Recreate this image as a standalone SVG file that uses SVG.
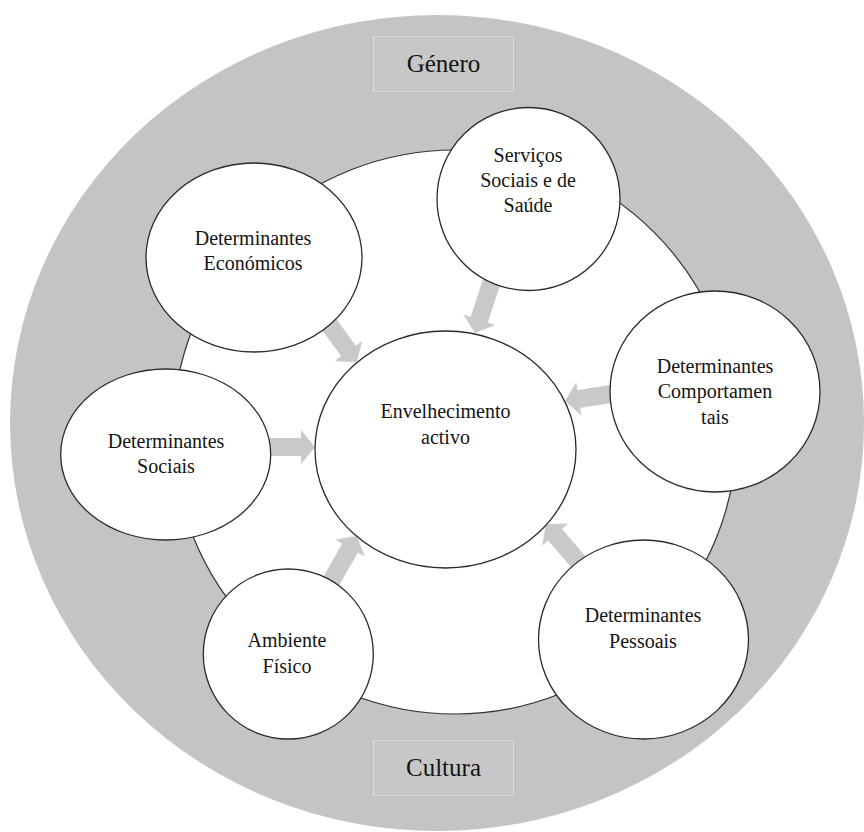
<svg xmlns="http://www.w3.org/2000/svg" width="864" height="832" viewBox="0 0 864 832">
<defs>
<style>
.node{fill:#ffffff;stroke:#2b2b2b;stroke-width:1.3}
.lbl{font-family:'Liberation Serif','Tinos','DejaVu Serif',serif;font-size:20px;fill:#141414;text-anchor:middle}
.tag{font-family:'Liberation Serif','Tinos','DejaVu Serif',serif;font-size:25px;fill:#141414;text-anchor:middle}
.box{fill:#c7c7c7;stroke:#d8d8d8;stroke-width:2}
.boxedge{fill:none;stroke:#b8b8b8;stroke-width:1}
.arr{fill:#c9c9c9;filter:url(#soft)}
</style>
<filter id="soft" x="-20%" y="-20%" width="140%" height="140%"><feGaussianBlur stdDeviation="0.7"/></filter>
</defs>
<rect x="0" y="0" width="864" height="832" fill="#ffffff"/>
<g id="ring">
<ellipse cx="437" cy="423" rx="427" ry="408" fill="#c4c4c4"/>
<circle cx="455" cy="432" r="282" fill="#ffffff" stroke="#333333" stroke-width="1.2"/>
</g>
<g id="genero">
<rect class="box" x="373" y="36" width="141" height="56"/>
<rect class="boxedge" x="372" y="35" width="143" height="58"/>
<text class="tag" x="443.5" y="72" font-family="Liberation Serif, serif">Género</text>
</g>
<g id="cultura">
<rect class="box" x="373" y="740" width="141" height="56"/>
<rect class="boxedge" x="372" y="739" width="143" height="58"/>
<text class="tag" x="443.5" y="776" font-family="Liberation Serif, serif">Cultura</text>
</g>
<g id="connectors">
<path class="arr" transform="translate(327.3,321.9) rotate(54)" d="M0,-9 L36,-9 L36,-17 L50,0 L36,17 L36,9 L0,9 Z"/>
<path class="arr" transform="translate(492.6,278.8) rotate(108)" d="M0,-9 L43,-9 L43,-17 L57,0 L43,17 L43,9 L0,9 Z"/>
<path class="arr" transform="translate(614.9,393.4) rotate(171.3)" d="M0,-9 L36.5,-9 L36.5,-17 L50.5,0 L36.5,17 L36.5,9 L0,9 Z"/>
<path class="arr" transform="translate(266,447) rotate(0)" d="M0,-9 L35,-9 L35,-17 L49,0 L35,17 L35,9 L0,9 Z"/>
<path class="arr" transform="translate(329.7,583.7) rotate(-60.3)" d="M0,-9 L41,-9 L41,-17 L55,0 L41,17 L41,9 L0,9 Z"/>
<path class="arr" transform="translate(581,565.1) rotate(229.6)" d="M0,-9 L40,-9 L40,-17 L54,0 L40,17 L40,9 L0,9 Z"/>
</g>
<g id="economicos">
<ellipse class="node" cx="254" cy="257.5" rx="108" ry="94.5"/>
<text class="lbl" x="253" y="244.5">Determinantes</text>
<text class="lbl" x="253" y="270">Económicos</text>
</g>
<g id="servicos">
<circle class="node" cx="528.5" cy="199" r="91.5"/>
<text class="lbl" x="528" y="161.5">Serviços</text>
<text class="lbl" x="528" y="187">Sociais e de</text>
<text class="lbl" x="528" y="212">Saúde</text>
</g>
<g id="comportamentais">
<ellipse class="node" cx="715" cy="391.5" rx="105" ry="100.5"/>
<text class="lbl" x="715" y="372.5">Determinantes</text>
<text class="lbl" x="715" y="398">Comportamen</text>
<text class="lbl" x="715" y="423.5">tais</text>
</g>
<g id="sociais">
<ellipse class="node" cx="165.7" cy="454.5" rx="105" ry="85.5"/>
<text class="lbl" x="166" y="447.5">Determinantes</text>
<text class="lbl" x="166" y="473">Sociais</text>
</g>
<g id="central">
<ellipse class="node" cx="445.5" cy="449.5" rx="130.5" ry="118.5"/>
<text class="lbl" x="445.5" y="418">Envelhecimento</text>
<text class="lbl" x="445.5" y="443.5">activo</text>
</g>
<g id="ambiente">
<circle class="node" cx="288.3" cy="654" r="85"/>
<text class="lbl" x="287" y="647">Ambiente</text>
<text class="lbl" x="287" y="672.5">Físico</text>
</g>
<g id="pessoais">
<ellipse class="node" cx="643.5" cy="639.5" rx="105" ry="99.5"/>
<text class="lbl" x="643" y="622">Determinantes</text>
<text class="lbl" x="643" y="647.5">Pessoais</text>
</g>
</svg>
